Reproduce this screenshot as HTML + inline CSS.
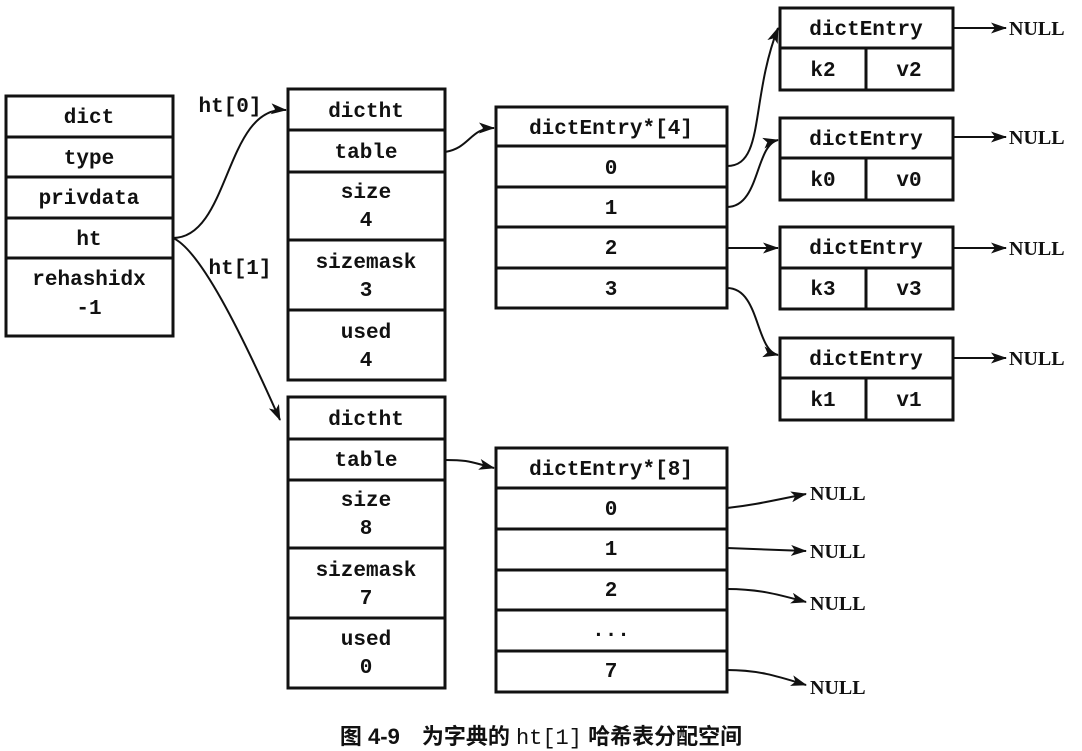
<!DOCTYPE html>
<html><head><meta charset="utf-8"><style>
html,body{margin:0;padding:0;background:#fff;}
svg{display:block;}
text{font-family:"Liberation Mono",monospace;font-weight:bold;font-size:21px;fill:#111;text-anchor:middle;}
.n{font-family:"Liberation Serif",serif;font-size:20px;text-anchor:start;}
.cap{font-family:"Liberation Sans","Noto Sans CJK SC",sans-serif;font-size:22px;}
</style></head><body>
<svg width="1082" height="751" viewBox="0 0 1082 751" xmlns="http://www.w3.org/2000/svg">
<defs><marker id="a" markerWidth="16" markerHeight="11" refX="15" refY="5.5" orient="auto" markerUnits="userSpaceOnUse"><path d="M0,0 L16,5.5 L0,11 L4,5.5 z" fill="#111"/></marker></defs>
<g fill="none" stroke="#111" stroke-width="3">
<rect x="6" y="96" width="167" height="240"/>
<line x1="6" y1="137" x2="173" y2="137"/><line x1="6" y1="177" x2="173" y2="177"/><line x1="6" y1="218" x2="173" y2="218"/><line x1="6" y1="258" x2="173" y2="258"/>
<rect x="288" y="89" width="157" height="291"/>
<line x1="288" y1="130" x2="445" y2="130"/><line x1="288" y1="172" x2="445" y2="172"/><line x1="288" y1="240" x2="445" y2="240"/><line x1="288" y1="310" x2="445" y2="310"/>
<rect x="288" y="397" width="157" height="291"/>
<line x1="288" y1="439" x2="445" y2="439"/><line x1="288" y1="480" x2="445" y2="480"/><line x1="288" y1="548" x2="445" y2="548"/><line x1="288" y1="618" x2="445" y2="618"/>
<rect x="496" y="107" width="231" height="201"/>
<line x1="496" y1="146" x2="727" y2="146"/><line x1="496" y1="187" x2="727" y2="187"/><line x1="496" y1="227" x2="727" y2="227"/><line x1="496" y1="268" x2="727" y2="268"/>
<rect x="496" y="448" width="231" height="244"/>
<line x1="496" y1="488" x2="727" y2="488"/><line x1="496" y1="529" x2="727" y2="529"/><line x1="496" y1="570" x2="727" y2="570"/><line x1="496" y1="610" x2="727" y2="610"/><line x1="496" y1="651" x2="727" y2="651"/>
<rect x="780" y="8" width="173" height="82"/><line x1="780" y1="48" x2="953" y2="48"/><line x1="866" y1="48" x2="866" y2="90"/>
<rect x="780" y="118" width="173" height="82"/><line x1="780" y1="158" x2="953" y2="158"/><line x1="866" y1="158" x2="866" y2="200"/>
<rect x="780" y="227" width="173" height="82"/><line x1="780" y1="268" x2="953" y2="268"/><line x1="866" y1="268" x2="866" y2="309"/>
<rect x="780" y="338" width="173" height="82"/><line x1="780" y1="378" x2="953" y2="378"/><line x1="866" y1="378" x2="866" y2="420"/>
</g>
<g fill="none" stroke="#111" stroke-width="2" marker-end="url(#a)">
<path d="M173,238 C230,238 225,105 286,110"/>
<path d="M173,238 C200,250 240,330 280,420"/>
<path d="M445,152 C470,148 470,128 494,128"/>
<path d="M445,460 C470,460 470,462 494,468"/>
<path d="M727,166 C765,166 750,100 778,28"/>
<path d="M727,207 C760,207 755,145 778,140"/>
<path d="M727,248 L778,248"/>
<path d="M727,288 C760,288 755,350 778,355"/>
<path d="M953,28 L1006,28"/><path d="M953,137 L1006,137"/><path d="M953,248 L1006,248"/><path d="M953,358 L1006,358"/>
<path d="M727,508 C755,505 775,500 806,494"/>
<path d="M727,548 L806,551"/>
<path d="M727,589 C760,589 780,595 806,602"/>
<path d="M727,670 C760,670 780,677 806,685"/>
</g>
<text x="89" y="123">dict</text><text x="89" y="164">type</text><text x="89" y="204">privdata</text><text x="89" y="245">ht</text>
<text x="89" y="285">rehashidx</text><text x="89" y="314">-1</text>
<text x="230" y="112">ht[0]</text><text x="240" y="274">ht[1]</text>
<text x="366" y="117">dictht</text><text x="366" y="158">table</text><text x="366" y="198">size</text><text x="366" y="226">4</text>
<text x="366" y="268">sizemask</text><text x="366" y="296">3</text><text x="366" y="338">used</text><text x="366" y="366">4</text>
<text x="366" y="425">dictht</text><text x="366" y="466">table</text><text x="366" y="506">size</text><text x="366" y="534">8</text>
<text x="366" y="576">sizemask</text><text x="366" y="604">7</text><text x="366" y="645">used</text><text x="366" y="673">0</text>
<text x="611" y="134">dictEntry*[4]</text><text x="611" y="174">0</text><text x="611" y="214">1</text><text x="611" y="254">2</text><text x="611" y="295">3</text>
<text x="611" y="475">dictEntry*[8]</text><text x="611" y="515">0</text><text x="611" y="555">1</text><text x="611" y="596">2</text><text x="611" y="636">...</text><text x="611" y="677">7</text>
<text x="866" y="35">dictEntry</text><text x="823" y="76">k2</text><text x="909" y="76">v2</text>
<text x="866" y="145">dictEntry</text><text x="823" y="186">k0</text><text x="909" y="186">v0</text>
<text x="866" y="254">dictEntry</text><text x="823" y="295">k3</text><text x="909" y="295">v3</text>
<text x="866" y="365">dictEntry</text><text x="823" y="406">k1</text><text x="909" y="406">v1</text>
<text class="n" x="1009" y="35">NULL</text><text class="n" x="1009" y="144">NULL</text><text class="n" x="1009" y="255">NULL</text><text class="n" x="1009" y="365">NULL</text>
<text class="n" x="810" y="500">NULL</text><text class="n" x="810" y="558">NULL</text><text class="n" x="810" y="610">NULL</text><text class="n" x="810" y="694">NULL</text>
<text class="cap" x="541" y="744">图 4-9　为字典的 <tspan font-family="Liberation Mono" font-weight="normal">ht[1]</tspan> 哈希表分配空间</text>
</svg>
</body></html>
